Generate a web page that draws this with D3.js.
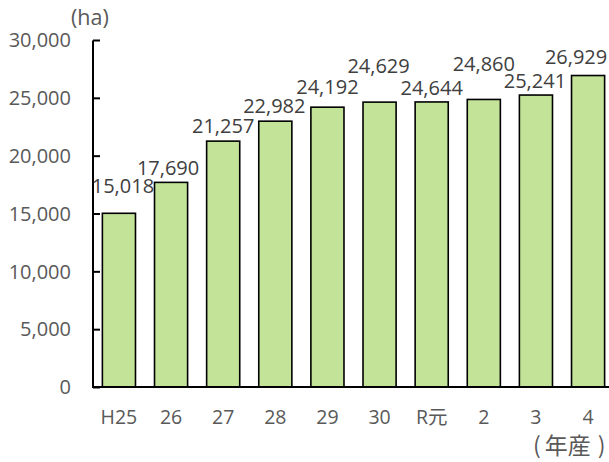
<!DOCTYPE html>
<html><head><meta charset="utf-8">
<script src="https://cdn.jsdelivr.net/npm/d3@7"></script>
<style>
html,body{margin:0;padding:0;background:#fff;}
svg{display:block;}
</style></head>
<body>
<script>
// ---- data ----
const categories = ["H25","26","27","28","29","30","R元","2","3","4"];
const values = [15018,17690,21257,22982,24192,24629,24644,24860,25241,26929];
const yTicks = [0,5000,10000,15000,20000,25000,30000];
const unitLabel = "(ha)";
const xTitleParts = ["(", "年産", ")"];
// label placement tweaks (layout only): [dx px, gap above bar px]
const labelDx  = [4,-3,0,-1,0,-1,0,0,-1,-12];
const labelGap = [20,7,8,8.5,13,29,7,28.5,7,12];

const W = 609, H = 462;
const svg = d3.select("body").append("svg").attr("width", W).attr("height", H);

const x = d3.scaleBand().domain(categories).range([93, 614]).paddingInner(0.365).paddingOuter(0.18);
const y = d3.scaleLinear().domain([0, 30000]).range([387, 40]);

const fontLat = "'Open Sans','Noto Sans CJK JP',sans-serif";

// bars
svg.append("g").selectAll("rect").data(values).join("rect")
  .attr("x", (d,i) => x(categories[i]))
  .attr("y", d => y(d))
  .attr("width", x.bandwidth())
  .attr("height", d => y(0) - y(d))
  .attr("fill", "#c2e398")
  .attr("stroke", "#000")
  .attr("stroke-width", 1.6);

// y axis
const yAxis = d3.axisRight(y).tickValues(yTicks).tickSize(7).tickFormat("");
const gy = svg.append("g").attr("transform", "translate(93,0)").call(yAxis);
gy.select(".domain").attr("stroke", "#000").attr("stroke-width", 2).attr("d", "M0,40.5V387");
gy.selectAll(".tick line").attr("stroke", "#000").attr("stroke-width", 2);

svg.append("g").selectAll("text").data(yTicks).join("text")
  .attr("x", 71).attr("y", d => y(d)).attr("dy", "0.36em")
  .attr("text-anchor", "end")
  .attr("font-family", fontLat).attr("font-size", 20).attr("fill", "#595959")
  .text(d => d3.format(",")(d));

// x axis
const xAxis = d3.axisBottom(x).tickSize(0).tickFormat("");
const gx = svg.append("g").attr("transform", "translate(0,387)").call(xAxis);
gx.select(".domain").attr("stroke", "#000").attr("stroke-width", 2).attr("d", "M92,0H614");

svg.append("g").selectAll("text").data(categories).join("text")
  .attr("x", d => x(d) + x.bandwidth()/2).attr("y", 424)
  .attr("text-anchor", "middle")
  .attr("font-family", fontLat).attr("font-size", 19.5).attr("fill", "#595959")
  .text(d => d);

// value labels
svg.append("g").selectAll("text").data(values).join("text")
  .attr("x", (d,i) => x(categories[i]) + x.bandwidth()/2 + labelDx[i])
  .attr("y", (d,i) => y(d) - labelGap[i])
  .attr("text-anchor", "middle")
  .attr("font-family", fontLat).attr("font-size", 20).attr("fill", "#404040")
  .text(d => d3.format(",")(d));

// unit label
svg.append("text").attr("x", 71).attr("y", 25)
  .attr("font-family", fontLat).attr("font-size", 21.5).attr("fill", "#595959")
  .text(unitLabel);

// x title
const xt = svg.append("text").attr("x", 533).attr("y", 454)
  .attr("font-family", "'Noto Sans CJK JP',sans-serif").attr("font-size", 23).attr("fill", "#595959");
xt.selectAll("tspan").data(xTitleParts).join("tspan")
  .attr("dx", (d,i) => [0, 4, 7][i])
  .text(d => d);
</script>
</body></html>
